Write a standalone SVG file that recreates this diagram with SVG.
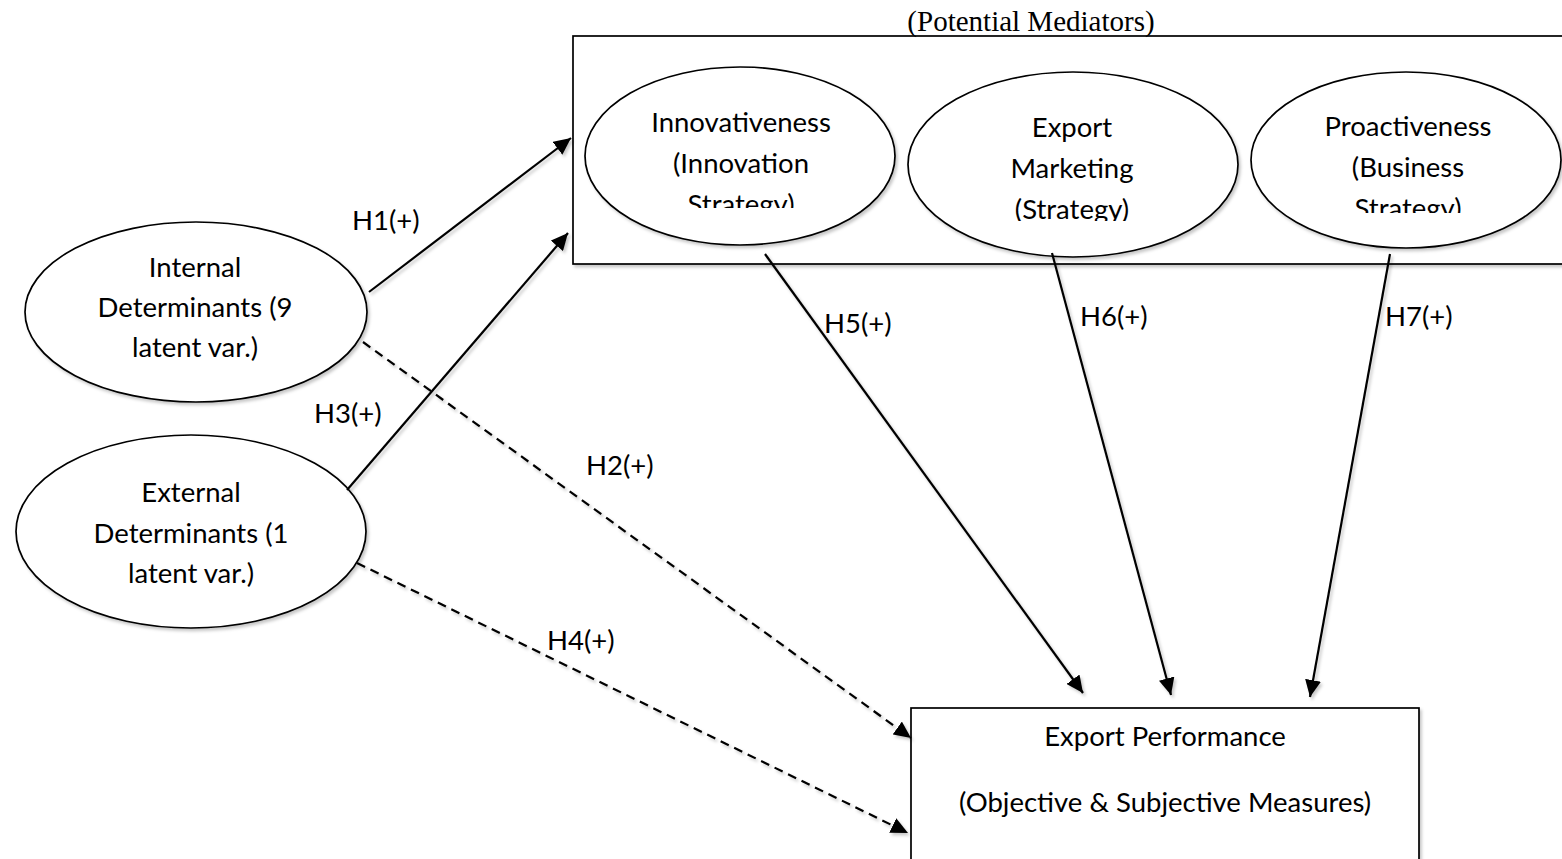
<svg xmlns="http://www.w3.org/2000/svg" width="1562" height="859" viewBox="0 0 1562 859">
<style>
.bg{fill:#fff}
.shape{fill:#fff;stroke:#000;stroke-width:1.7}
.t{font-family:Lato,"Open Sans","Liberation Sans",sans-serif;font-size:27.5px;fill:#000;text-anchor:middle}
.lbl{font-family:Lato,"Open Sans","Liberation Sans",sans-serif;font-size:27.5px;fill:#000}
.title{font-family:"Liberation Serif","Times New Roman",serif;font-size:29px;fill:#000;text-anchor:middle}
.c{stroke:#000;stroke-width:2.2;fill:none}
.d{stroke-dasharray:9 6}
</style>
<defs>
<filter id="sh" x="-10%" y="-10%" width="130%" height="130%">
<feDropShadow dx="2" dy="2.5" stdDeviation="1.5" flood-color="#000" flood-opacity="0.22"/>
</filter>
<marker id="ah" markerUnits="userSpaceOnUse" markerWidth="18" markerHeight="16" refX="17" refY="8" orient="auto">
<path d="M0,0 L17,8 L0,16 z" fill="#000"/>
</marker>
<clipPath id="cl1"><rect x="580" y="60" width="320" height="148"/></clipPath>
<clipPath id="cl2"><rect x="905" y="60" width="340" height="161"/></clipPath>
<clipPath id="cl3"><rect x="1248" y="60" width="320" height="153"/></clipPath>
</defs>
<rect class="bg" x="0" y="0" width="1562" height="859"/>

<g id="mediators-box">
<rect class="shape" x="573" y="36" width="995" height="228" filter="url(#sh)"/>
<text class="title" x="1031" y="31">(Potential Mediators)</text>
</g>

<g id="innovativeness">
<ellipse class="shape" cx="740" cy="156" rx="155" ry="89" filter="url(#sh)"/>
<g clip-path="url(#cl1)">
<text class="t" x="741" y="132">Innovativeness</text>
<text class="t" x="741" y="173">(Innovation</text>
<text class="t" x="741" y="214">Strategy)</text>
</g>
</g>

<g id="export-marketing">
<ellipse class="shape" cx="1073" cy="164.5" rx="165" ry="92.5" filter="url(#sh)"/>
<g clip-path="url(#cl2)">
<text class="t" x="1072" y="137">Export</text>
<text class="t" x="1072" y="178">Marketing</text>
<text class="t" x="1072" y="219">(Strategy)</text>
</g>
</g>

<g id="proactiveness">
<ellipse class="shape" cx="1406" cy="160" rx="155" ry="88" filter="url(#sh)"/>
<g clip-path="url(#cl3)">
<text class="t" x="1408" y="136">Proactiveness</text>
<text class="t" x="1408" y="177">(Business</text>
<text class="t" x="1408" y="218">Strategy)</text>
</g>
</g>

<g id="internal">
<ellipse class="shape" cx="196" cy="312" rx="171" ry="90" filter="url(#sh)"/>
<text class="t" x="195" y="277">Internal</text>
<text class="t" x="195" y="317">Determinants (9</text>
<text class="t" x="195" y="357">latent var.)</text>
</g>

<g id="external">
<ellipse class="shape" cx="191" cy="531.5" rx="175" ry="96.5" filter="url(#sh)"/>
<text class="t" x="191" y="502">External</text>
<text class="t" x="191" y="543">Determinants (1</text>
<text class="t" x="191" y="583">latent var.)</text>
</g>

<g id="export-performance">
<rect class="shape" x="911" y="708" width="508" height="200" filter="url(#sh)"/>
<text class="t" x="1165" y="746">Export Performance</text>
<text class="t" x="1165" y="812">(Objective &amp; Subjective Measures)</text>
</g>

<g id="connectors" filter="url(#sh)">
<line class="c" x1="369" y1="292" x2="571" y2="138" marker-end="url(#ah)"/>
<line class="c" x1="347" y1="490" x2="568" y2="233" marker-end="url(#ah)"/>
<line class="c d" x1="363" y1="342" x2="911" y2="738" marker-end="url(#ah)"/>
<line class="c d" x1="357" y1="563" x2="908" y2="833" marker-end="url(#ah)"/>
<line class="c" x1="765" y1="254" x2="1083" y2="693" marker-end="url(#ah)"/>
<line class="c" x1="1052" y1="253" x2="1171" y2="695" marker-end="url(#ah)"/>
<line class="c" x1="1390" y1="254" x2="1310" y2="697" marker-end="url(#ah)"/>
</g>

<g id="labels">
<text class="lbl" x="352" y="230">H1(+)</text>
<text class="lbl" x="586" y="475">H2(+)</text>
<text class="lbl" x="314" y="423">H3(+)</text>
<text class="lbl" x="547" y="650">H4(+)</text>
<text class="lbl" x="824" y="333">H5(+)</text>
<text class="lbl" x="1080" y="326">H6(+)</text>
<text class="lbl" x="1385" y="326">H7(+)</text>
</g>
</svg>
